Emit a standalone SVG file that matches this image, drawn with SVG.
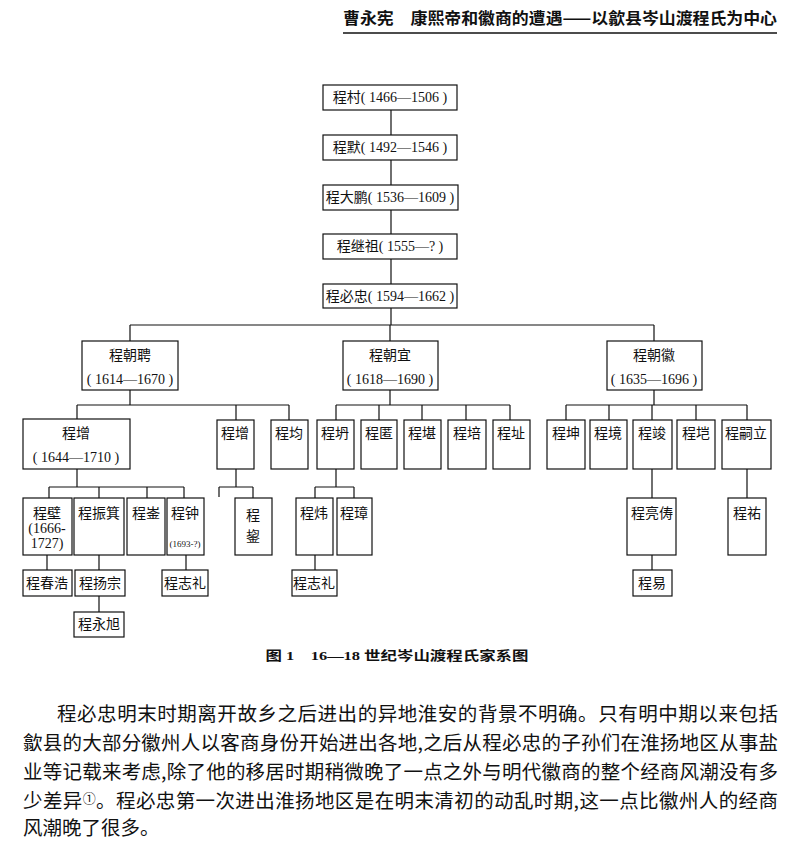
<svg xmlns="http://www.w3.org/2000/svg" width="802" height="841" viewBox="0 0 802 841">
<style>
.bx{fill:#fff;stroke:#111;stroke-width:1.2}
.ln{fill:none;stroke:#111;stroke-width:1.2}
.t{font-family:"Liberation Serif","Noto Sans CJK SC",serif;font-size:14px;fill:#111;text-anchor:middle}
.s{font-size:9px}
.hd{font-family:"Noto Sans CJK SC",sans-serif;font-size:16px;font-weight:bold;fill:#111}
.cap{font-family:"Liberation Serif","Noto Sans CJK SC",serif;font-size:13px;font-weight:bold;fill:#111;text-anchor:middle}
.bd{font-family:"Noto Sans CJK SC",sans-serif;font-size:19.5px;fill:#111}
</style>
<rect width="802" height="841" fill="#fff"/>
<text class="hd" x="343" y="24" textLength="434" lengthAdjust="spacingAndGlyphs">曹永宪　康熙帝和徽商的遭遇——以歙县岑山渡程氏为中心</text>
<line x1="343" y1="33" x2="777" y2="33" stroke="#111" stroke-width="1.6"/>

<g id="connectors" class="ln">
<path d="M391 110V135M391 160V185M391 210V234M391 259V284M391 308V325"/>
<path d="M130 325H654M130 325V341M390 325V341M654 325V341"/>
<path d="M130 390V405M77 405H289M77 405V419M236 405V420M289 405V420"/>
<path d="M390 390V405M336 405H510M336 405V420M379 405V420M422 405V420M466 405V420M510 405V420"/>
<path d="M654 390V405M566 405H747M566 405V420M609 405V420M652 405V420M696 405V420M747 405V420"/>
<path d="M77 469V487M49 487H184M49 487V498M99 487V498M147 487V498M184 487V498"/>
<path d="M236 469V487M219 487H253M219 487V497M253 487V498"/>
<path d="M336 469V487M315 487H354M315 487V498M354 487V498"/>
<path d="M652 469V498M747 469V498"/>
<path d="M47 555V570M99 555V570M99 596V612M186 555V570M315 555V570M652 555V570"/>
</g>

<g id="n-cuncun"><rect class="bx" x="323" y="85" width="134" height="25"/><text class="t" x="390" y="102">程村( 1466—1506 )</text></g>
<g id="n-mo"><rect class="bx" x="323" y="135" width="134" height="25"/><text class="t" x="390" y="152">程默( 1492—1546 )</text></g>
<g id="n-dapeng"><rect class="bx" x="323" y="185" width="135" height="25"/><text class="t" x="390" y="202">程大鹏( 1536—1609 )</text></g>
<g id="n-jizu"><rect class="bx" x="323" y="234" width="134" height="25"/><text class="t" x="390" y="251">程继祖( 1555—? )</text></g>
<g id="n-bizhong"><rect class="bx" x="323" y="284" width="134" height="24"/><text class="t" x="390" y="301">程必忠( 1594—1662 )</text></g>

<g id="n-chaopin"><rect class="bx" x="82" y="341" width="96" height="49"/><text class="t" x="130" y="360">程朝聘</text><text class="t" x="130" y="384">( 1614—1670 )</text></g>
<g id="n-chaoyi"><rect class="bx" x="343" y="341" width="95" height="49"/><text class="t" x="390" y="360">程朝宜</text><text class="t" x="390" y="384">( 1618—1690 )</text></g>
<g id="n-chaohui"><rect class="bx" x="607" y="341" width="95" height="49"/><text class="t" x="654" y="360">程朝徽</text><text class="t" x="654" y="384">( 1635—1696 )</text></g>

<g id="n-zeng1"><rect class="bx" x="23" y="419" width="107" height="50"/><text class="t" x="76" y="438">程增</text><text class="t" x="76" y="462">( 1644—1710 )</text></g>
<g id="n-zeng2"><rect class="bx" x="217" y="420" width="37" height="49"/><text class="t" x="235" y="438">程增</text></g>
<g id="n-jun"><rect class="bx" x="271" y="420" width="37" height="49"/><text class="t" x="289" y="438">程均</text></g>
<g id="n-kan1"><rect class="bx" x="317" y="420" width="37" height="49"/><text class="t" x="335" y="438">程坍</text></g>
<g id="n-ni"><rect class="bx" x="361" y="420" width="36" height="49"/><text class="t" x="379" y="438">程匿</text></g>
<g id="n-kan2"><rect class="bx" x="404" y="420" width="37" height="49"/><text class="t" x="422" y="438">程堪</text></g>
<g id="n-pei"><rect class="bx" x="448" y="420" width="38" height="49"/><text class="t" x="467" y="438">程培</text></g>
<g id="n-zhi"><rect class="bx" x="493" y="420" width="37" height="49"/><text class="t" x="511" y="438">程址</text></g>
<g id="n-kun"><rect class="bx" x="547" y="420" width="38" height="49"/><text class="t" x="566" y="438">程坤</text></g>
<g id="n-jing"><rect class="bx" x="590" y="420" width="37" height="49"/><text class="t" x="608" y="438">程境</text></g>
<g id="n-jun2"><rect class="bx" x="633" y="420" width="39" height="49"/><text class="t" x="652" y="438">程竣</text></g>
<g id="n-kai"><rect class="bx" x="677" y="420" width="38" height="49"/><text class="t" x="696" y="438">程垲</text></g>
<g id="n-sili"><rect class="bx" x="722" y="420" width="49" height="49"/><text class="t" x="746" y="438">程嗣立</text></g>

<g id="n-bi"><rect class="bx" x="23" y="498" width="49" height="57"/><text class="t" x="47" y="518">程壁</text><text class="t" x="47" y="533">(1666-</text><text class="t" x="47" y="548">1727)</text></g>
<g id="n-zhenji"><rect class="bx" x="74" y="498" width="50" height="57"/><text class="t" x="99" y="518">程振箕</text></g>
<g id="n-yin"><rect class="bx" x="127" y="498" width="38" height="57"/><text class="t" x="146" y="518">程崟</text></g>
<g id="n-zhong"><rect class="bx" x="167" y="498" width="37" height="57"/><text class="t" x="185" y="518">程钟</text><text class="t s" x="185" y="547">(1693-?)</text></g>
<g id="n-yun"><rect class="bx" x="235" y="498" width="37" height="57"/><text class="t" x="253" y="520">程</text><text class="t" x="253" y="541">鋆</text></g>
<g id="n-wei"><rect class="bx" x="296" y="498" width="37" height="57"/><text class="t" x="314" y="518">程炜</text></g>
<g id="n-zhang"><rect class="bx" x="337" y="498" width="35" height="57"/><text class="t" x="354" y="518">程璋</text></g>
<g id="n-liangchou"><rect class="bx" x="627" y="498" width="49" height="57"/><text class="t" x="652" y="518">程亮俦</text></g>
<g id="n-you"><rect class="bx" x="728" y="498" width="38" height="57"/><text class="t" x="747" y="518">程祐</text></g>

<g id="n-chunhao"><rect class="bx" x="23" y="570" width="49" height="26"/><text class="t" x="47" y="588">程春浩</text></g>
<g id="n-yangzong"><rect class="bx" x="75" y="570" width="50" height="26"/><text class="t" x="100" y="588">程扬宗</text></g>
<g id="n-zhili1"><rect class="bx" x="162" y="570" width="46" height="26"/><text class="t" x="185" y="588">程志礼</text></g>
<g id="n-zhili2"><rect class="bx" x="292" y="570" width="45" height="26"/><text class="t" x="314" y="588">程志礼</text></g>
<g id="n-yi"><rect class="bx" x="633" y="570" width="39" height="26"/><text class="t" x="652" y="588">程易</text></g>
<g id="n-yongxu"><rect class="bx" x="74" y="612" width="50" height="25"/><text class="t" x="99" y="629">程永旭</text></g>

<text class="cap" x="397" y="660" textLength="263" lengthAdjust="spacingAndGlyphs">图 1　16—18 世纪岑山渡程氏家系图</text>

<text class="bd" x="57" y="721" textLength="721" lengthAdjust="spacing">程必忠明末时期离开故乡之后进出的异地淮安的背景不明确。只有明中期以来包括</text>
<text class="bd" x="23" y="750" textLength="755" lengthAdjust="spacing">歙县的大部分徽州人以客商身份开始进出各地,之后从程必忠的子孙们在淮扬地区从事盐</text>
<text class="bd" x="23" y="779" textLength="755" lengthAdjust="spacing">业等记载来考虑,除了他的移居时期稍微晚了一点之外与明代徽商的整个经商风潮没有多</text>
<text class="bd" x="23" y="808" textLength="755" lengthAdjust="spacing">少差异<tspan font-size="13" dy="-5">①</tspan><tspan dy="5">。程必忠第一次进出淮扬地区是在明末清初的动乱时期,这一点比徽州人的经商</tspan></text>
<text class="bd" x="23" y="835">风潮晚了很多。</text>
</svg>
